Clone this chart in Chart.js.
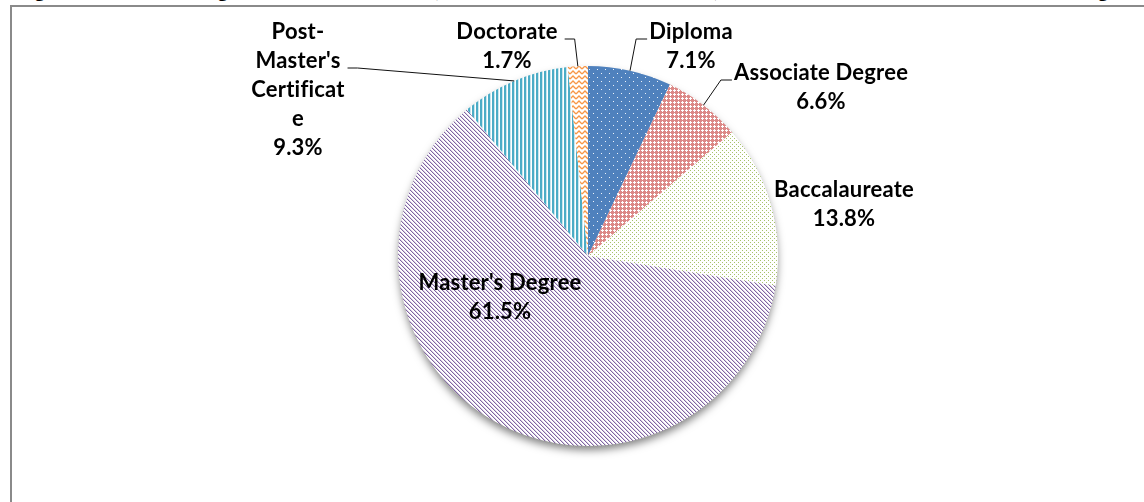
<!DOCTYPE html>
<html>
<head>
<meta charset="utf-8">
<script src="https://cdn.jsdelivr.net/npm/chart.js@4"></script>
<style>
  html, body { margin: 0; padding: 0; background: #fff; overflow: hidden; }
  body { width: 1144px; height: 502px; position: relative; }
  #title { position: absolute; left: 17px; top: -21px; font: bold 20px "Liberation Serif", serif; line-height: 20px; white-space: nowrap; color: #000; }
  #frame { position: absolute; left: 10px; top: 5px; right: 0; bottom: 0; border-top: 2px solid #8a8a8a; border-left: 2px solid #8a8a8a; }
  #chart { position: absolute; left: 0; top: 0; }
</style>
</head>
<body>
<div id="title">Figure 8. Educators' Highest Credential Earned (Total Full-time Nurse Educators) Across All of the Member Schools of Nursing</div>
<div id="frame"></div>
<canvas id="chart" width="1144" height="502"></canvas>
<script>
// Highest credential held, share of respondents (%)
const categories = ["Diploma", "Associate Degree", "Baccalaureate", "Master's Degree", "Post-Master's Certificate", "Doctorate"];
const shares = [7.1, 6.6, 13.8, 61.5, 9.3, 1.7];

// How each data label is written (the wrap is taken from the picture)
const labelLines = [
  ["Diploma"],
  ["Associate Degree"],
  ["Baccalaureate"],
  ["Master's Degree"],
  ["Post-", "Master's", "Certificat", "e"],
  ["Doctorate"],
];

// Label placement: centre of first line relative to pie centre, and leader line side
const labelOffsets = [[103, -224], [233, -183], [256, -66], [-88, 27], [-290, -224], [-81, -224]];
const leaderSide = ["left", "left", null, null, "right", "right"];
const leaderRow = [0, 0, 0, 0, 1, 0];
const lineHeight = 29;
const labelFont = "bold 22px Lato";

function makePattern(w, h, draw) {
  const c = document.createElement("canvas");
  c.width = w;
  c.height = h;
  const g = c.getContext("2d");
  draw(g);
  return g.createPattern(c, "repeat");
}

const patterns = [
  // Diploma: blue with small white dots
  makePattern(8, 8, (g) => {
    g.fillStyle = "#4F81BD";
    g.fillRect(0, 0, 8, 8);
    g.fillStyle = "rgba(255,255,255,0.9)";
    g.fillRect(1, 1, 1, 1);
    g.fillRect(5, 5, 1, 1);
  }),
  // Associate: red with little white crosses
  makePattern(4, 4, (g) => {
    g.fillStyle = "#DC8987";
    g.fillRect(0, 0, 4, 4);
    g.fillStyle = "#fff";
    [[2, 1], [1, 2], [2, 2], [3, 2], [2, 3]].forEach(([x, y]) => g.fillRect(x, y, 1, 1));
  }),
  // Baccalaureate: sparse green dots
  makePattern(4, 4, (g) => {
    g.fillStyle = "#fff";
    g.fillRect(0, 0, 4, 4);
    g.fillStyle = "#A6C26A";
    g.fillRect(0, 0, 1, 1);
    g.fillRect(2, 2, 1, 1);
  }),
  // Master's: purple downward diagonals
  makePattern(4, 4, (g) => {
    g.fillStyle = "#fff";
    g.fillRect(0, 0, 4, 4);
    for (let k = 0; k < 4; k++) {
      g.fillStyle = "#8064A2";
      g.fillRect(k, k, 1, 1);
      g.fillStyle = "rgba(128,100,162,0.3)";
      g.fillRect((k + 1) % 4, k, 1, 1);
    }
  }),
  // Post-Master's: cyan verticals
  makePattern(4, 1, (g) => {
    g.fillStyle = "#fff";
    g.fillRect(0, 0, 4, 1);
    g.fillStyle = "#4BACC6";
    g.fillRect(0, 0, 2, 1);
    g.fillStyle = "rgba(75,172,198,0.3)";
    g.fillRect(2, 0, 1, 1);
  }),
  // Doctorate: orange zigzag
  makePattern(6, 5, (g) => {
    g.fillStyle = "#fff";
    g.fillRect(0, 0, 6, 5);
    g.strokeStyle = "#F79646";
    g.lineWidth = 1.3;
    g.beginPath();
    g.moveTo(0, 4);
    g.lineTo(3, 1);
    g.lineTo(6, 4);
    g.stroke();
  }),
];

const pieShadow = {
  id: "pieShadow",
  beforeDatasetsDraw(chart) {
    const arc = chart.getDatasetMeta(0).data[0];
    if (!arc) return;
    const { x, y, outerRadius } = arc.getProps(["x", "y", "outerRadius"], true);
    const ctx = chart.ctx;
    ctx.save();
    ctx.shadowColor = "rgba(0,0,0,0.5)";
    ctx.shadowBlur = 9;
    ctx.shadowOffsetY = 5;
    ctx.fillStyle = "#fff";
    ctx.beginPath();
    ctx.arc(x, y, outerRadius - 1, 0, Math.PI * 2);
    ctx.fill();
    ctx.restore();
  },
};

const pieLabels = {
  id: "pieLabels",
  afterDatasetsDraw(chart) {
    const ctx = chart.ctx;
    const meta = chart.getDatasetMeta(0);
    ctx.save();
    ctx.font = labelFont;
    ctx.letterSpacing = "0.2px"; // also stops the "fi" ligature
    ctx.textAlign = "center";
    ctx.textBaseline = "middle";
    meta.data.forEach((arc, i) => {
      const { x, y, outerRadius, startAngle, endAngle } =
        arc.getProps(["x", "y", "outerRadius", "startAngle", "endAngle"], true);
      const lines = labelLines[i].concat([shares[i].toFixed(1) + "%"]);
      const lx = x + labelOffsets[i][0];
      const ly = y + labelOffsets[i][1];
      ctx.fillStyle = "#000";
      lines.forEach((t, k) => ctx.fillText(t, lx, ly + k * lineHeight));

      const side = leaderSide[i];
      if (!side) return;
      const w = ctx.measureText(lines[leaderRow[i]]).width;
      const yy = ly + leaderRow[i] * lineHeight + 7;
      const sx = side === "left" ? lx - w / 2 - 2 : lx + w / 2 + 7;
      const ex = side === "left" ? sx - 11 : sx + 10;
      const mid = (startAngle + endAngle) / 2;
      ctx.strokeStyle = "#111";
      ctx.lineWidth = 1;
      ctx.beginPath();
      ctx.moveTo(sx, yy);
      ctx.lineTo(ex, yy);
      ctx.lineTo(x + Math.cos(mid) * outerRadius, y + Math.sin(mid) * outerRadius);
      ctx.stroke();
    });
    ctx.restore();
  },
};

new Chart(document.getElementById("chart"), {
  type: "pie",
  data: {
    labels: categories,
    datasets: [{
      data: shares,
      backgroundColor: patterns,
      borderWidth: 0,
      hoverOffset: 0,
    }],
  },
  options: {
    responsive: false,
    animation: false,
    events: [],
    layout: { padding: { left: 398, right: 366, top: 66, bottom: 56 } },
    plugins: {
      legend: { display: false },
      tooltip: { enabled: false },
      title: { display: false },
    },
  },
  plugins: [pieShadow, pieLabels],
});
</script>
</body>
</html>
